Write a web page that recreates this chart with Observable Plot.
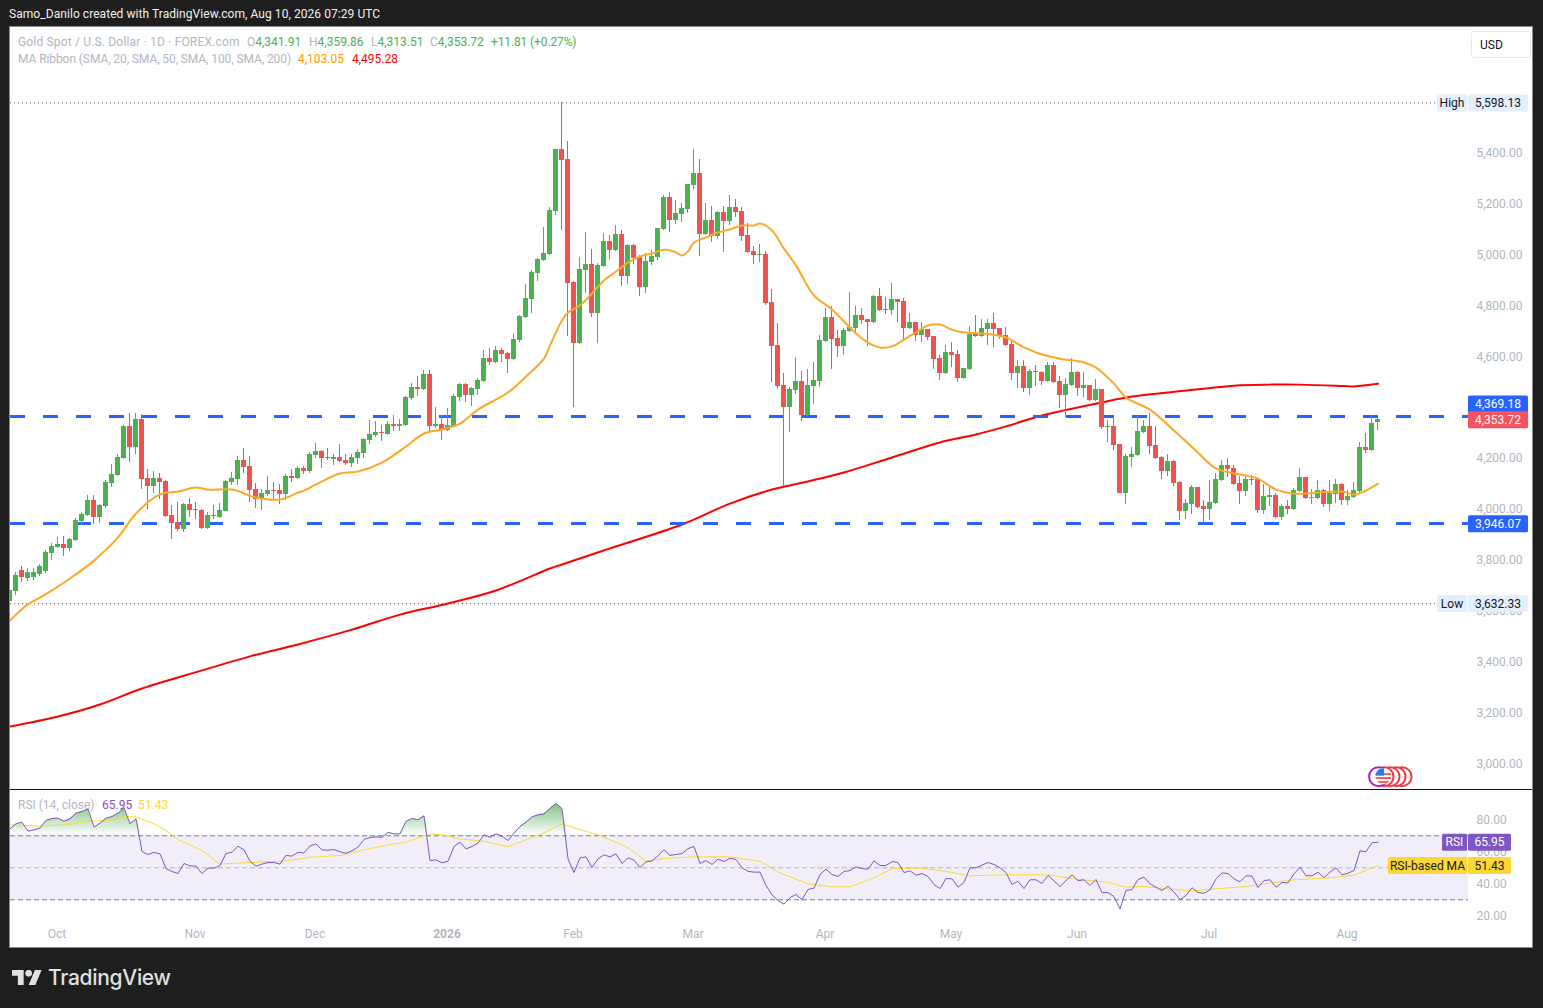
<!DOCTYPE html>
<html><head><meta charset="utf-8">
<script src="https://cdn.jsdelivr.net/npm/d3@7"></script>
<script src="https://cdn.jsdelivr.net/npm/@observablehq/plot@0.6"></script>
<style>
html,body{margin:0;padding:0;background:#1e1e1e;width:1543px;height:1008px;overflow:hidden;font-family:Roboto,sans-serif;}
.abs{position:absolute;white-space:pre;font-size:12px;line-height:14px;}
svg{display:block;}
</style></head><body>
<div class="abs" style="left:9px;top:7px;color:#f0f0f0;letter-spacing:0.06px;" id="byline">Samo_Danilo created with TradingView.com, Aug 10, 2026 07:29 UTC</div>
<div style="position:absolute;left:10px;top:27px;width:1522px;height:920px;background:#fff;outline:1px solid #8a8a8a;"></div>
<div id="main" style="position:absolute;left:10px;top:27px;"></div>
<div style="position:absolute;left:10px;top:789px;width:1522px;height:1px;background:#131722;"></div>
<div id="rsi" style="position:absolute;left:10px;top:790px;"></div>

<div class="abs" style="left:18px;top:35px;color:#b2b5be;letter-spacing:0.17px;">Gold Spot / U.S. Dollar · 1D · FOREX.com</div>
<div class="abs" style="left:247px;top:35px;color:#b2b5be;">O<span style="color:#4caf50">4,341.91</span></div>
<div class="abs" style="left:309px;top:35px;color:#b2b5be;">H<span style="color:#4caf50">4,359.86</span></div>
<div class="abs" style="left:371px;top:35px;color:#b2b5be;">L<span style="color:#4caf50">4,313.51</span></div>
<div class="abs" style="left:430px;top:35px;color:#b2b5be;">C<span style="color:#4caf50">4,353.72</span></div>
<div class="abs" style="left:491px;top:35px;color:#4caf50;letter-spacing:-0.12px;">+11.81 (+0.27%)</div>
<div class="abs" style="left:18px;top:52px;color:#b2b5be;letter-spacing:-0.08px;">MA Ribbon (SMA, 20, SMA, 50, SMA, 100, SMA, 200)</div>
<div class="abs" style="left:298px;top:52px;color:#ff9800;">4,103.05</div>
<div class="abs" style="left:352px;top:52px;color:#ff0000;">4,495.28</div>
<div style="position:absolute;left:1471px;top:31px;width:58px;height:25px;border:1px solid #e8e9ec;border-radius:3px;background:#fff;"></div>
<div class="abs" style="left:1480px;top:38px;color:#131722;">USD</div>
<div class="abs" style="left:18px;top:798px;color:#b2b5be;">RSI (14, close)</div>
<div class="abs" style="left:102px;top:798px;color:#7e57c2;">65.95</div>
<div class="abs" style="left:138px;top:798px;color:#fdd835;">51.43</div>

<svg style="position:absolute;left:12px;top:970px;" width="30" height="15" viewBox="0 4 36 18"><path fill="#e0e0e0" d="M14 22H7V11H0V4h14v18zM28 22h-8l7.5-18h8L28 22z"/><circle fill="#e0e0e0" cx="20" cy="8" r="4"/></svg>
<div class="abs" style="left:48px;top:964px;color:#e0e0e0;font-size:21px;line-height:28px;font-weight:500;font-family:Inter,Roboto,sans-serif;letter-spacing:-0.3px;">TradingView</div>

<script>
const opens=[3640,3680,3762,3731,3735,3747,3758,3830,3852,3864,
3848,3880,3955,3978,4037,3970,4013,4104,4135,4202,
4328,4245,4355,4123,4092,4123,4112,3978,3951,3923,
4021,4002,3998,3927,3978,3970,3994,4108,4119,4194,
4170,4080,4041,4061,4076,4076,4061,4131,4123,4163,
4151,4214,4229,4206,4198,4206,4194,4182,4202,4222,
4273,4292,4304,4296,4335,4328,4331,4437,4481,4473,
4532,4328,4335,4312,4328,4441,4492,4449,4473,4504,
4594,4579,4626,4614,4591,4665,4755,4826,4928,4979,
5003,5172,5415,5376,4893,4653,4940,4964,4771,4956,
5054,5019,5081,4916,5038,4991,4873,4971,4991,5101,
5227,5136,5160,5179,5274,5321,5081,5136,5073,5168,
5132,5187,5172,5077,5015,4999,5003,4814,4646,4488,
4402,4469,4504,4371,4485,4504,4661,4755,4673,4642,
4700,4712,4763,4748,4736,4838,4787,4783,4826,4818,
4712,4736,4685,4708,4681,4594,4536,4618,4610,4516,
4551,4689,4681,4708,4732,4712,4685,4649,4536,4563,
4477,4543,4540,4504,4567,4504,4449,4488,4540,4477,
4488,4430,4473,4324,4328,4257,4064,4206,4214,4304,
4328,4253,4206,4151,4190,4108,3994,4021,4088,4013,
4002,4025,4115,4174,4163,4104,4072,4119,4119,3998,
4049,4057,3970,4013,4002,4072,4127,4045,4045,4076,
4021,4061,4100,4037,4049,4072,4245,4233,4341.91];
const highs=[3703,3754,3778,3770,3770,3786,3841,3868,3892,3896,
3888,3966,3990,4057,4057,4021,4115,4178,4218,4331,
4379,4379,4375,4159,4151,4143,4115,4017,4029,4025,
4045,4029,4002,3990,4017,4025,4115,4147,4210,4241,
4210,4104,4080,4131,4108,4100,4139,4159,4170,4170,
4225,4261,4233,4241,4218,4257,4218,4218,4237,4280,
4351,4347,4331,4347,4371,4355,4445,4496,4524,4547,
4547,4402,4371,4398,4453,4496,4496,4481,4516,4626,
4634,4642,4634,4618,4689,4763,4885,4940,4987,5109,
5187,5415,5598.13,5446,4897,4991,5089,5022,4967,5085,
5077,5117,5097,5042,5042,4999,5007,5019,5105,5234,
5246,5215,5203,5278,5415,5376,5203,5191,5172,5191,
5234,5219,5187,5125,5034,5042,5015,4865,4732,4536,
4481,4598,4543,4551,4579,4685,4791,4799,4704,4712,
4854,4799,4791,4748,4842,4869,4834,4889,4826,4830,
4771,4736,4736,4708,4681,4606,4646,4657,4626,4555,
4720,4763,4748,4748,4771,4712,4716,4661,4587,4587,
4551,4567,4543,4579,4579,4524,4516,4594,4543,4540,
4488,4512,4473,4351,4363,4257,4218,4245,4367,4351,
4379,4328,4210,4218,4194,4112,4041,4096,4088,4037,
4115,4143,4194,4202,4174,4131,4135,4135,4119,4100,
4092,4064,4021,4037,4084,4163,4127,4080,4115,4080,
4115,4119,4104,4076,4108,4265,4300,4371,4359.86];
const lows=[3632.33,3664,3715,3719,3723,3739,3750,3801,3850,3817,
3837,3876,3939,3974,3943,3947,4006,4088,4131,4198,
4186,4218,4080,4002,4064,4041,3970,3884,3915,3911,
3970,3962,3923,3923,3962,3966,3994,4096,4096,4143,
4029,4006,3998,4053,4037,4021,4037,4108,4119,4139,
4143,4202,4163,4194,4174,4186,4174,4167,4178,4202,
4257,4284,4269,4292,4308,4308,4328,4430,4445,4469,
4300,4320,4273,4308,4324,4426,4422,4406,4449,4500,
4567,4575,4579,4536,4587,4657,4752,4771,4897,4975,
4999,5156,5097,4681,4402,4649,4850,4755,4653,4952,
4983,5015,4877,4885,4964,4838,4850,4960,4979,5097,
5089,5121,5128,5164,5258,4995,5077,5050,5062,5011,
5117,5148,5054,5007,4964,4971,4803,4500,4477,4092,
4304,4453,4347,4367,4414,4481,4657,4551,4598,4606,
4697,4697,4728,4642,4732,4779,4767,4763,4736,4665,
4708,4661,4657,4665,4551,4508,4532,4559,4500,4512,
4547,4677,4677,4646,4638,4669,4642,4508,4477,4461,
4449,4485,4488,4500,4496,4398,4363,4485,4445,4441,
4426,4426,4316,4265,4233,4064,4021,4167,4210,4300,
4218,4198,4119,4131,4092,3958,3962,3982,4006,3946.07,
3958,4021,4112,4127,4096,4021,4053,4096,3986,3982,
4013,3966,3958,3982,3998,4068,4041,4021,4041,4009,
3994,4025,4017,4017,4045,4064,4222,4229,4313.51];
const closes=[3684,3743,3735,3754,3754,3778,3833,3856,3864,3848,
3884,3958,3982,4037,3970,4017,4108,4139,4206,4328,
4245,4355,4119,4092,4123,4108,3974,3947,3923,4021,
3998,3998,3927,3978,3974,3998,4112,4123,4194,4167,
4076,4041,4064,4076,4072,4061,4131,4123,4163,4151,
4218,4229,4202,4202,4206,4190,4182,4206,4225,4276,
4296,4304,4300,4335,4328,4335,4441,4481,4473,4532,
4328,4335,4312,4331,4445,4492,4449,4477,4508,4594,
4579,4626,4610,4591,4669,4759,4830,4932,4983,5007,
5176,5415,5372,4889,4653,4944,4964,4771,4960,5054,
5019,5081,4916,5038,4987,4873,4975,4995,5105,5227,
5136,5164,5183,5278,5321,5081,5136,5073,5168,5132,
5187,5168,5073,5011,4999,5003,4810,4642,4485,4402,
4473,4504,4371,4488,4508,4665,4755,4669,4642,4704,
4716,4763,4744,4736,4838,4783,4783,4826,4814,4712,
4736,4685,4708,4677,4591,4536,4618,4606,4516,4555,
4689,4681,4712,4732,4708,4681,4646,4536,4563,4477,
4543,4540,4504,4567,4500,4449,4492,4540,4477,4488,
4430,4473,4324,4328,4253,4064,4210,4218,4308,4328,
4249,4202,4151,4190,4104,3994,4025,4088,4009,4002,
4029,4119,4174,4159,4100,4072,4119,4115,3998,4053,
4057,3970,4013,4002,4076,4127,4045,4049,4076,4021,
4064,4100,4037,4053,4076,4245,4233,4339,4353.72];

const ma20Idx=[0,1,3,5,7,10,14,18,21,25,28,31,33,37,41,45,48,49,51,55,58,62,66,69,72,75,78,83,86,89,90,92,93,95,97,99,101,103,105,107,109,111,112,113,114,116,118,120,122,124,125,127,129,131,134,137,141,143,145,147,149,151,153,155,157,159,162,166,169,172,175,179,181,184,186,190,194,198,201,206,208,211,214,218,222,224,226,228];
const ma20Val=[3566,3589,3629,3656,3684,3731,3801,3892,3986,4061,4072,4088,4080,4080,4049,4041,4068,4076,4100,4143,4151,4186,4249,4300,4316,4339,4394,4461,4524,4594,4646,4744,4775,4803,4850,4901,4936,4971,4995,5007,5022,5011,4999,5015,5050,5070,5089,5101,5117,5117,5125,5097,5026,4960,4842,4787,4693,4657,4638,4642,4669,4697,4724,4728,4708,4697,4693,4677,4638,4610,4594,4579,4559,4496,4441,4394,4312,4225,4163,4135,4123,4080,4064,4068,4072,4061,4076,4103.05];
const ma200Idx=[0,8,15,22,32,40,48,57,65,73,81,90,92,100,112,120,127,133,139,147,155,161,166,172,182,187,193,204,210,215,221,224,228];
const ma200Val=[3150,3189,3236,3299,3370,3425,3472,3530,3589,3633,3684,3770,3786,3849,3943,4025,4080,4112,4147,4206,4265,4296,4328,4371,4422,4445,4461,4488,4492,4492,4488,4485,4495.28];

const rsiVal=[74.3,77.5,78.5,72.9,73.7,74.8,79.6,80.8,81,79.1,
80.6,84.1,85.2,86.8,75.4,77.9,81,82,84.1,87.5,
77.5,80.6,60.2,58.3,59.6,58.7,49.5,47.7,46.4,52.7,
51.2,51,46.4,49.8,49.8,51.4,58.9,59.7,63.5,61.2,
54.1,51,52.3,53.3,53.3,52.3,57.7,57.3,59.7,59.3,
63.7,64.8,61.2,61,61.4,60,59.1,60.6,62.9,67.7,
68.9,69.3,69.1,72.1,71.2,71.2,78.9,80.8,80,82.5,
54.5,55,53.1,54.1,63.3,66,61.8,63.3,65.4,70.6,
69.1,71.2,69.8,67,71.6,75.8,78.5,81.8,83.1,83.7,
87,90.2,87,55.6,47,56.2,56.8,50.2,55.6,58.1,
56.8,58.7,52.7,56.2,54.8,50.2,53.7,54.3,57.5,61.2,
57.7,58.3,58.9,62,63.3,52.7,54.5,52.1,55.4,53.9,
56,55.2,50,47.7,47.3,47.3,38.9,33.1,29.5,27.3,
31.4,33.3,30,36.4,37.3,45.8,49.1,45.8,44.6,47.7,
48.3,50.6,49.5,49.1,54.3,51.4,51.4,53.9,53.3,47,
48.1,45.4,46.4,44.6,39.5,37,43.3,43.1,37.9,40.8,
50,50,51.6,53.3,52.1,50,47,39.5,41.6,37,
42.5,42.5,40.2,45.2,41.8,38.3,42,45.6,42,42.5,
38.9,42.7,34.5,34.5,32,24.3,35.8,36.4,42.7,44.1,
40,37.9,35.8,38.5,34.8,30.2,32.7,37.5,34.5,34.1,
36.2,43.1,46.8,46.4,43.1,41.2,45,44.8,37.7,42,
42.5,37.9,40.8,40.6,46.2,50.4,45,45,47.3,43.9,
47.3,50,45.6,46.6,48.3,60.6,60,65.6,65.95];
const rsiMaIdx=[0,5,10,13,16,19,21,24,26,28,32,35,40,46,50,55,59,63,66,70,72,75,79,83,86,89,92,94,98,101,103,106,109,114,120,125,128,133,137,140,144,147,152,156,160,166,173,178,183,186,189,193,197,200,206,210,214,220,224,228];
const rsiMaVal=[76.8,76,77,79.3,79.3,82,81.8,77.5,73.3,67.7,60.8,52.3,53.3,54.3,56.6,57.7,61.2,64.3,66,71.2,70.6,68,66.6,63.1,67.5,71.8,77.5,75,70.6,66,62.5,54.1,55.8,56.8,56.8,54.1,47.3,40,38.1,38.1,43.7,49.5,49.8,47.7,45,45.6,45.6,42.7,41,37.9,38.3,36.8,35.4,36.6,38.3,40.4,42.5,43.7,45.4,51.43];

const priceTicks=[3000,3200,3400,3600,3800,4000,4200,4600,4800,5000,5200,5400];
const rsiTicks=[20,40,60,80];
const monthIdx=[8,31,51,94,114,136,157,178,200,223];
const monthNames=["Oct","Nov","Dec","Feb","Mar","Apr","May","Jun","Jul","Aug"];
const yearIdx=[73];
const yearNames=["2026"];
const supportResistance=[4369.18,3946.07];
const extremes=[5598.13,3632.33];
const eventIdx=[232,231,230,229,228.1];
const eventPrice=2953;

const GREEN="#4caf50",RED="#ef5350",FONT="Roboto, sans-serif";
const candles=opens.map((o,i)=>({k:i,o,h:highs[i],l:lows[i],c:closes[i],col:closes[i]>=o?GREEN:RED}));
const ma20=ma20Idx.map((k,i)=>({k,v:ma20Val[i]}));
const ma200=ma200Idx.map((k,i)=>({k,v:ma200Val[i]}));
const rsiRows=rsiVal.map((v,k)=>({k,v}));
const rsiMa=rsiMaIdx.map((k,i)=>({k,v:rsiMaVal[i]}));
const xDomain=[0.0833,243.0833];
const SVGNS="http://www.w3.org/2000/svg";
function el(n,a,t){const e=document.createElementNS(SVGNS,n);for(const k in a)e.setAttribute(k,a[k]);if(t!=null)e.textContent=t;return e;}

/* price-scale tags: value placed through the y scale */
function tagMark(tags){
  return (index,scales,values,dim)=>{
    const g=el("g",{"font-size":12,"font-family":FONT});
    const right=dim.width-dim.marginRight;
    for(const t of tags){
      const cy=scales.y(t.value)+(t.dy||0)+(t.nudge||0.5);
      if(t.label){
        g.append(el("rect",{x:right-t.labelW-1,y:cy-8.5,width:t.labelW,height:17,fill:t.fill,rx:1.5}));
        g.append(el("text",{x:right-t.labelW/2-1,y:cy+4,"text-anchor":"middle",fill:t.color},t.label));
      }
      g.append(el("rect",{x:right,y:cy-8.5,width:t.w,height:17,fill:t.fill,rx:1.5}));
      g.append(el("text",{x:right+t.w/2,y:cy+4,"text-anchor":"middle",fill:t.color},t.text));
    }
    return g;
  };
}
const priceTags=[
 {value:5598.13,text:"5,598.13",label:"High",labelW:30,w:60,fill:"#e3effd",color:"#131722"},
 {value:3632.33,text:"3,632.33",label:"Low",labelW:30,w:60,fill:"#e3effd",color:"#131722"},
 {value:3946.07,text:"3,946.07",w:60,fill:"#2962ff",color:"#fff"},
 {value:4369.18,text:"4,369.18",w:60,fill:"#2962ff",color:"#fff",dy:-12},
 {value:4353.72,text:"4,353.72",w:60,fill:"#f7525f",color:"#fff"}
];
const rsiTags=[
 {value:65.95,text:"65.95",label:"RSI",labelW:25,w:43,fill:"#7e57c2",color:"#fff"},
 {value:51.43,text:"51.43",label:"RSI-based MA",labelW:79,w:43,fill:"#fdd835",color:"#131722"}
];
/* economic-event bubble: a flag drawn at the front-most event position */
function flagMark(index,scales){
  const cx=scales.x(eventIdx[4]),cy=scales.y(eventPrice),r=9;
  const g=el("g",{});
  const cp=el("clipPath",{id:"flagClip"});cp.append(el("circle",{cx:cx+5.2,cy,r:r-1}));g.append(cp);
  const f=el("g",{"clip-path":"url(#flagClip)"});
  f.append(el("rect",{x:cx-5,y:cy-9,width:20,height:18,fill:"#fff"}));
  for(const o of [-3,1,5])f.append(el("rect",{x:cx-5,y:cy+o,width:20,height:2,fill:"#f05a5a"}));
  f.append(el("rect",{x:cx-3,y:cy-8,width:9,height:7.5,fill:"#2f7de1"}));
  g.append(f);
  return g;
}

const mainPlot=Plot.plot({
  width:1522,height:762,marginLeft:0,marginRight:64,marginTop:0,marginBottom:0,
  style:{background:"transparent",fontFamily:FONT,fontSize:"12px",overflow:"hidden"},
  x:{domain:xDomain,axis:null},
  y:{domain:[2902.46,5894.07]},
  marks:[
    Plot.axisY({anchor:"right",ticks:priceTicks,tickSize:0,tickPadding:8,label:null,fill:"#b2b5be",fontSize:12,dy:-0.4,tickFormat:d3.format(",.2f")}),
    Plot.ruleY(extremes,{stroke:"#5d606b",strokeWidth:1,strokeDasharray:"1,3"}),
    Plot.line(ma200,{x:"k",y:"v",stroke:"#ff0000",strokeWidth:2,curve:"catmull-rom",clip:true}),
    Plot.ruleY(supportResistance,{stroke:"#2962ff",strokeWidth:3,strokeDasharray:"15,18",dy:0.3,shapeRendering:"crispEdges"}),
    Plot.ruleX(candles,{x:"k",y1:"l",y2:"h",stroke:"col",strokeWidth:1,dx:-0.5,shapeRendering:"crispEdges",clip:true}),
    Plot.rect(candles,{x1:d=>d.k-0.4167,x2:d=>d.k+0.4167,y1:"o",y2:"c",fill:"col",shapeRendering:"crispEdges",clip:true}),
    Plot.line(ma20,{x:"k",y:"v",stroke:"#ffa726",strokeWidth:2,curve:"catmull-rom",clip:true}),
    Plot.dot(eventIdx,{x:d=>d,y:()=>eventPrice,r:9.5,fill:"#fff",stroke:(d,i)=>i===4?"#9c27b0":"#f23645",strokeWidth:2}),
    flagMark,
    tagMark(priceTags)
  ]
});
document.getElementById("main").append(mainPlot);

const rsiPlot=Plot.plot({
  width:1522,height:157,marginLeft:0,marginRight:64,marginTop:0,marginBottom:25,
  style:{background:"transparent",fontFamily:FONT,fontSize:"12px",overflow:"hidden"},
  x:{domain:xDomain,axis:null},
  y:{domain:[15.81,98.3]},
  marks:[
    (i,scales)=>{
      const d=el("defs",{}),g=el("linearGradient",{id:"rsiGreen",gradientUnits:"userSpaceOnUse",x1:0,x2:0,y1:scales.y(92),y2:scales.y(70)});
      g.append(el("stop",{offset:0,"stop-color":"#4caf50","stop-opacity":0.8}));
      g.append(el("stop",{offset:1,"stop-color":"#4caf50","stop-opacity":0}));
      d.append(g);return d;
    },
    Plot.axisY({anchor:"right",ticks:rsiTicks,tickSize:0,tickPadding:8,label:null,fill:"#b2b5be",fontSize:12,tickFormat:d3.format(".2f")}),
    Plot.axisX({ticks:monthIdx,tickFormat:d=>monthNames[monthIdx.indexOf(d)],tickSize:0,tickPadding:7,dx:-1,label:null,fill:"#b2b5be",fontSize:12}),
    Plot.axisX({ticks:yearIdx,tickFormat:d=>yearNames[yearIdx.indexOf(d)],tickSize:0,tickPadding:7,dx:-1,label:null,fill:"#b2b5be",fontSize:12,fontWeight:700}),
    Plot.rect([0],{y1:30,y2:70,fill:"#7e57c2",fillOpacity:0.1}),
    Plot.ruleY([70,30],{stroke:"#787b86",strokeWidth:1,strokeDasharray:"5,3"}),
    Plot.ruleY([50],{stroke:"#787b86",strokeOpacity:0.5,strokeWidth:1,strokeDasharray:"5,3"}),
    Plot.areaY(rsiRows,{x:"k",y1:70,y2:d=>Math.max(d.v,70),fill:"url(#rsiGreen)",clip:true}),
    Plot.line(rsiMa,{x:"k",y:"v",stroke:"#fdd835",strokeWidth:1,clip:true}),
    Plot.line(rsiRows,{x:"k",y:"v",stroke:"#7e57c2",strokeWidth:1,clip:true}),
    tagMark(rsiTags)
  ]
});
document.getElementById("rsi").append(rsiPlot);
</script>
</body></html>
